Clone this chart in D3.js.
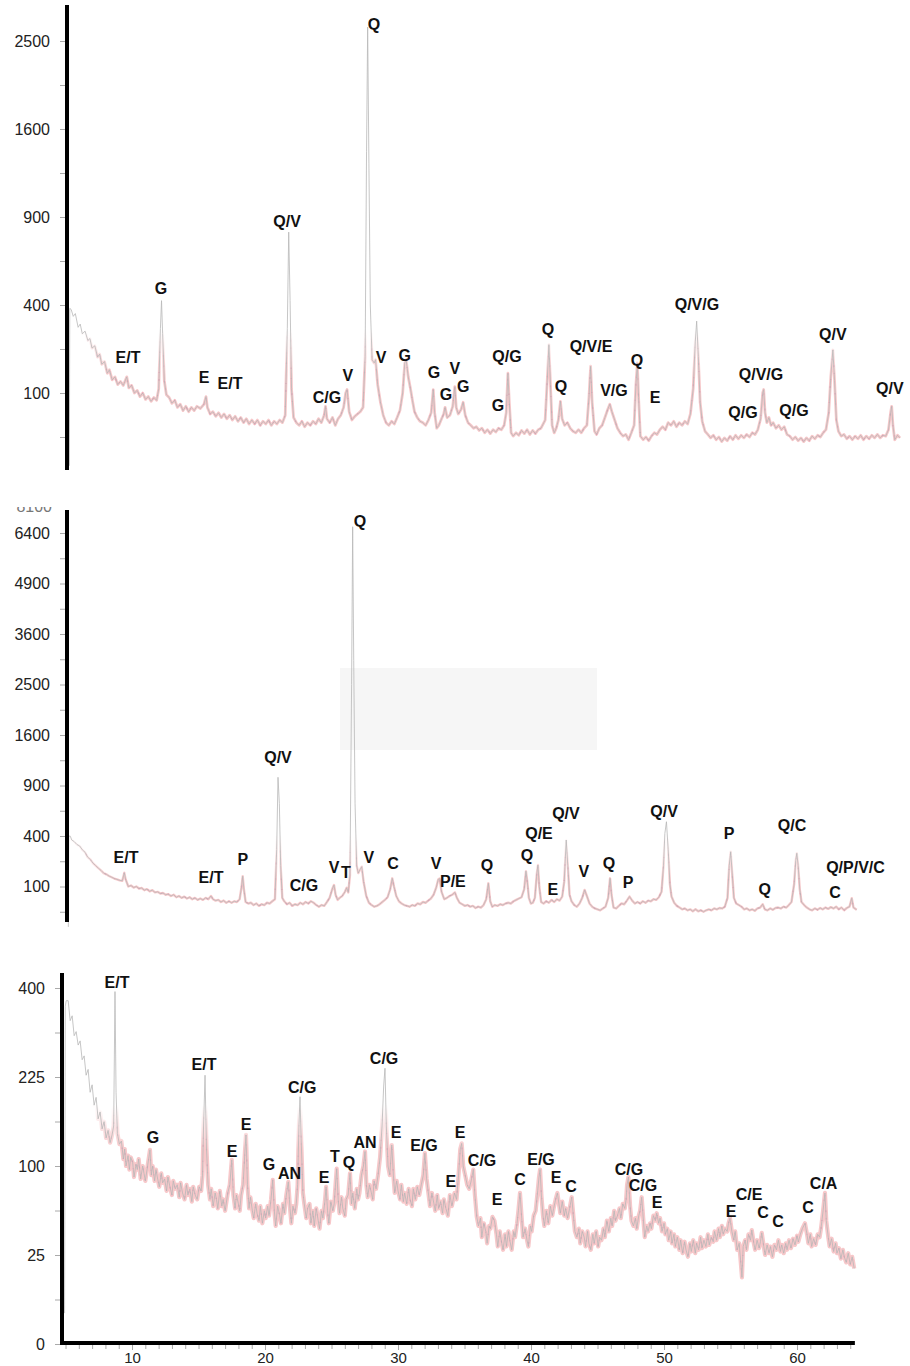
<!DOCTYPE html>
<html><head><meta charset="utf-8">
<script src="https://cdn.jsdelivr.net/npm/d3@7"></script>
<style>
body{margin:0;background:#fff;}
svg{display:block;}
</style></head><body>
<svg id="chart" width="910" height="1366"></svg>
<script>
// ---------- DATA (2θ in degrees, intensity in counts) ----------
const topPattern = [[5.17,3],[5.2,385],[5.3,380],[5.45,350],[5.6,362],[5.8,305],[5.95,318],[6.1,280],[6.3,290],[6.5,255],[6.65,262],[6.8,228],[7.0,236],[7.2,198],[7.35,208],[7.5,176],[7.7,184],[7.9,150],[8.05,160],[8.25,132],[8.45,140],[8.65,120],[8.85,128],[9.05,118],[9.3,140],[9.45,112],[9.65,118],[9.85,100],[10.05,106],[10.25,92],[10.45,100],[10.65,86],[10.85,92],[11.05,82],[11.25,90],[11.45,84],[11.6,110],[11.72,300],[11.8,420],[11.88,280],[12.0,130],[12.15,96],[12.35,90],[12.55,78],[12.75,84],[12.95,70],[13.15,76],[13.35,64],[13.55,72],[13.75,62],[13.95,70],[14.15,64],[14.35,72],[14.6,68],[14.85,76],[15.0,92],[15.1,70],[15.3,58],[15.5,62],[15.7,54],[15.9,60],[16.1,52],[16.3,58],[16.5,50],[16.7,56],[16.9,48],[17.1,54],[17.3,46],[17.5,52],[17.7,44],[17.9,50],[18.1,42],[18.3,48],[18.5,42],[18.7,48],[18.9,40],[19.1,46],[19.3,42],[19.5,48],[19.7,40],[19.9,46],[20.1,42],[20.3,48],[20.5,44],[20.7,56],[20.85,300],[20.95,800],[21.05,420],[21.15,110],[21.3,52],[21.5,44],[21.7,40],[21.9,46],[22.1,38],[22.3,44],[22.5,40],[22.7,46],[22.9,42],[23.1,50],[23.3,44],[23.5,56],[23.6,72],[23.7,50],[23.9,44],[24.1,52],[24.3,40],[24.5,50],[24.7,56],[24.9,70],[25.05,100],[25.15,108],[25.3,62],[25.5,48],[25.7,54],[25.9,58],[26.1,62],[26.3,70],[26.45,200],[26.55,1400],[26.63,2660],[26.72,1300],[26.82,400],[26.95,190],[27.1,180],[27.2,190],[27.35,120],[27.55,80],[27.75,56],[27.95,44],[28.15,40],[28.35,46],[28.55,42],[28.75,52],[28.95,64],[29.15,100],[29.3,180],[29.4,190],[29.55,140],[29.7,112],[29.85,84],[30.0,62],[30.2,52],[30.4,46],[30.6,44],[30.8,40],[31.0,48],[31.2,60],[31.35,108],[31.45,60],[31.6,36],[31.75,40],[31.95,50],[32.1,58],[32.2,70],[32.35,52],[32.55,56],[32.75,72],[32.9,115],[33.0,70],[33.15,58],[33.35,66],[33.5,80],[33.65,56],[33.85,44],[34.05,40],[34.25,36],[34.45,38],[34.65,33],[34.85,36],[35.05,30],[35.25,34],[35.45,29],[35.65,34],[35.85,31],[36.05,36],[36.25,34],[36.45,40],[36.6,60],[36.72,150],[36.82,80],[36.95,30],[37.1,26],[37.3,30],[37.5,27],[37.7,33],[37.9,29],[38.1,34],[38.3,28],[38.5,33],[38.7,29],[38.9,34],[39.1,36],[39.4,48],[39.55,130],[39.67,240],[39.78,120],[39.9,40],[40.05,30],[40.2,36],[40.35,48],[40.5,82],[40.62,50],[40.8,40],[41.0,44],[41.2,36],[41.4,32],[41.6,30],[41.8,34],[42.0,30],[42.2,36],[42.4,40],[42.55,90],[42.67,170],[42.78,80],[42.95,32],[43.1,28],[43.3,36],[43.5,40],[43.7,52],[43.9,66],[44.05,76],[44.2,62],[44.4,48],[44.6,36],[44.8,30],[45.0,26],[45.2,28],[45.4,22],[45.6,30],[45.8,40],[45.93,120],[46.03,180],[46.12,90],[46.25,26],[46.45,22],[46.65,25],[46.85,21],[47.05,26],[47.25,30],[47.45,28],[47.65,34],[47.85,38],[48.05,34],[48.25,44],[48.45,40],[48.65,46],[48.85,38],[49.05,44],[49.25,40],[49.45,46],[49.65,42],[49.85,58],[50.05,110],[50.2,250],[50.3,330],[50.42,200],[50.55,80],[50.7,46],[50.9,32],[51.1,28],[51.3,24],[51.5,27],[51.7,22],[51.9,25],[52.1,20],[52.3,24],[52.5,21],[52.7,26],[52.9,22],[53.1,27],[53.3,23],[53.5,27],[53.7,24],[53.9,28],[54.1,25],[54.3,30],[54.5,28],[54.7,34],[54.9,50],[55.05,100],[55.12,108],[55.22,60],[55.35,44],[55.5,52],[55.65,40],[55.8,44],[56.0,36],[56.2,40],[56.4,34],[56.6,38],[56.8,28],[57.0,26],[57.2,22],[57.4,25],[57.6,21],[57.8,24],[58.0,20],[58.2,24],[58.4,21],[58.6,26],[58.8,23],[59.0,27],[59.2,25],[59.4,30],[59.6,34],[59.8,60],[59.95,140],[60.1,222],[60.22,130],[60.35,48],[60.5,32],[60.7,26],[60.9,28],[61.1,23],[61.3,26],[61.5,22],[61.7,26],[61.9,23],[62.1,27],[62.3,22],[62.5,26],[62.7,23],[62.9,27],[63.1,24],[63.3,28],[63.5,24],[63.7,27],[63.9,26],[64.1,34],[64.25,60],[64.33,72],[64.42,40],[64.55,22],[64.75,27],[64.93,24]];

const midPattern = [[5.25,4],[5.28,400],[5.4,398],[5.5,370],[5.7,356],[5.9,335],[6.1,325],[6.3,298],[6.5,282],[6.7,250],[6.9,236],[7.1,214],[7.3,200],[7.5,186],[7.7,174],[7.9,160],[8.1,154],[8.3,146],[8.5,140],[8.7,134],[8.9,130],[9.1,126],[9.3,124],[9.45,162],[9.55,130],[9.75,100],[9.95,104],[10.15,96],[10.35,100],[10.55,92],[10.75,94],[10.95,86],[11.15,90],[11.35,82],[11.55,86],[11.75,78],[11.95,80],[12.15,74],[12.35,76],[12.55,70],[12.75,72],[12.95,66],[13.15,70],[13.35,62],[13.55,66],[13.75,60],[13.95,64],[14.15,58],[14.35,62],[14.55,56],[14.75,60],[14.95,54],[15.15,58],[15.35,54],[15.55,60],[15.75,56],[15.95,66],[16.1,56],[16.3,52],[16.5,54],[16.7,48],[16.9,52],[17.1,46],[17.3,50],[17.5,46],[17.7,50],[17.9,48],[18.1,56],[18.25,100],[18.33,145],[18.42,90],[18.55,48],[18.75,44],[18.95,46],[19.15,40],[19.35,44],[19.55,38],[19.75,42],[19.95,40],[20.15,46],[20.35,44],[20.55,50],[20.75,56],[20.88,300],[20.98,1000],[21.08,700],[21.18,200],[21.3,60],[21.45,50],[21.65,42],[21.85,46],[22.05,38],[22.25,42],[22.45,40],[22.65,46],[22.85,42],[23.05,48],[23.25,44],[23.45,50],[23.65,46],[23.85,40],[24.05,36],[24.25,40],[24.45,38],[24.65,48],[24.85,60],[25.05,90],[25.18,106],[25.3,70],[25.45,54],[25.6,60],[25.8,66],[26.0,80],[26.13,95],[26.25,78],[26.38,150],[26.5,2500],[26.58,6600],[26.66,3000],[26.76,700],[26.88,200],[27.0,160],[27.15,180],[27.26,194],[27.4,120],[27.6,66],[27.8,46],[28.0,40],[28.2,36],[28.4,38],[28.6,42],[28.8,48],[29.0,54],[29.2,62],[29.4,90],[29.55,135],[29.68,100],[29.85,66],[30.05,50],[30.25,44],[30.45,40],[30.65,38],[30.85,36],[31.05,40],[31.25,38],[31.45,44],[31.65,42],[31.85,48],[32.05,46],[32.25,52],[32.45,58],[32.65,70],[32.85,96],[33.0,130],[33.1,134],[33.25,80],[33.45,56],[33.65,60],[33.85,66],[34.05,70],[34.25,78],[34.4,60],[34.6,46],[34.8,42],[35.0,38],[35.2,40],[35.4,36],[35.6,38],[35.8,33],[36.0,36],[36.2,34],[36.4,40],[36.6,56],[36.76,113],[36.9,50],[37.05,36],[37.25,40],[37.45,38],[37.65,42],[37.85,40],[38.05,44],[38.25,46],[38.45,44],[38.65,50],[38.85,54],[39.05,58],[39.25,62],[39.45,90],[39.58,170],[39.68,120],[39.8,60],[39.95,44],[40.1,46],[40.25,60],[40.4,160],[40.48,203],[40.58,100],[40.72,48],[40.9,44],[41.1,50],[41.3,46],[41.5,54],[41.7,48],[41.9,56],[42.1,52],[42.3,64],[42.45,120],[42.6,369],[42.72,200],[42.85,70],[43.0,50],[43.2,40],[43.4,36],[43.6,44],[43.8,60],[43.98,87],[44.15,66],[44.35,44],[44.55,36],[44.75,32],[44.95,30],[45.15,28],[45.35,32],[45.55,36],[45.75,60],[45.89,135],[46.0,70],[46.15,34],[46.35,32],[46.55,38],[46.75,44],[46.95,42],[47.15,52],[47.35,64],[47.55,52],[47.75,44],[47.95,48],[48.15,44],[48.35,50],[48.55,46],[48.75,52],[48.95,50],[49.15,56],[49.35,54],[49.55,62],[49.75,80],[49.9,200],[50.0,420],[50.12,521],[50.25,300],[50.38,110],[50.5,64],[50.7,46],[50.9,38],[51.1,34],[51.3,30],[51.5,32],[51.7,28],[51.9,30],[52.1,26],[52.3,30],[52.5,26],[52.7,28],[52.9,25],[53.1,28],[53.3,30],[53.5,28],[53.7,32],[53.9,30],[54.1,33],[54.3,32],[54.5,36],[54.7,60],[54.83,200],[54.94,285],[55.05,160],[55.18,60],[55.35,44],[55.55,40],[55.75,36],[55.95,30],[56.15,32],[56.35,28],[56.55,30],[56.75,27],[56.95,32],[57.15,34],[57.34,42],[57.5,30],[57.7,28],[57.9,32],[58.1,29],[58.3,33],[58.5,34],[58.7,32],[58.9,36],[59.1,34],[59.3,40],[59.5,48],[59.7,110],[59.82,230],[59.9,275],[60.0,200],[60.12,90],[60.25,48],[60.45,40],[60.65,34],[60.85,30],[61.05,28],[61.25,32],[61.45,29],[61.65,33],[61.85,30],[62.05,34],[62.25,31],[62.45,35],[62.65,32],[62.85,36],[63.05,30],[63.25,34],[63.45,28],[63.65,33],[63.85,36],[64.02,59],[64.15,34],[64.39,29]];

const botPattern = [[4.93,3],[4.98,360],[5.05,372],[5.2,372],[5.35,330],[5.5,340],[5.65,300],[5.8,308],[5.95,282],[6.1,290],[6.25,255],[6.4,262],[6.55,228],[6.7,238],[6.85,200],[7.0,212],[7.15,180],[7.3,192],[7.45,160],[7.6,170],[7.75,146],[7.9,156],[8.05,134],[8.2,144],[8.35,128],[8.5,138],[8.62,150],[8.72,392],[8.8,200],[8.9,140],[9.05,126],[9.2,130],[9.35,108],[9.45,120],[9.55,100],[9.7,112],[9.8,96],[9.9,110],[10.05,104],[10.15,88],[10.3,102],[10.4,96],[10.5,108],[10.65,86],[10.8,100],[10.9,92],[11.0,84],[11.15,98],[11.35,119],[11.45,90],[11.55,100],[11.7,84],[11.8,96],[11.9,88],[12.05,78],[12.2,92],[12.3,82],[12.45,86],[12.6,74],[12.7,88],[12.85,78],[13.0,70],[13.1,84],[13.25,76],[13.4,80],[13.55,68],[13.65,82],[13.8,72],[13.95,66],[14.1,80],[14.2,70],[14.35,76],[14.5,64],[14.6,78],[14.75,70],[14.9,66],[15.05,78],[15.2,74],[15.3,90],[15.38,150],[15.49,228],[15.6,120],[15.72,80],[15.86,66],[15.95,76],[16.1,60],[16.25,72],[16.35,66],[16.45,58],[16.6,74],[16.75,60],[16.85,66],[17.0,56],[17.2,72],[17.35,80],[17.5,107],[17.62,70],[17.75,58],[17.85,70],[18.0,62],[18.1,56],[18.2,70],[18.35,80],[18.5,120],[18.57,138],[18.68,80],[18.8,58],[18.9,68],[19.05,56],[19.15,50],[19.3,62],[19.4,54],[19.55,48],[19.65,60],[19.8,46],[19.95,56],[20.05,50],[20.2,60],[20.3,52],[20.45,66],[20.58,85],[20.7,56],[20.8,44],[20.95,60],[21.1,52],[21.2,46],[21.35,62],[21.45,54],[21.6,70],[21.75,83],[21.88,58],[21.98,46],[22.1,60],[22.25,54],[22.35,62],[22.45,80],[22.55,150],[22.63,193],[22.72,130],[22.85,72],[22.95,62],[23.1,50],[23.2,58],[23.35,62],[23.45,46],[23.6,56],[23.7,44],[23.85,58],[24.0,48],[24.1,42],[24.25,56],[24.35,50],[24.5,64],[24.59,78],[24.7,56],[24.8,46],[24.95,64],[25.1,56],[25.2,62],[25.3,80],[25.39,97],[25.5,66],[25.6,54],[25.75,68],[25.85,58],[26.0,52],[26.1,66],[26.25,70],[26.39,92],[26.5,62],[26.6,72],[26.75,58],[26.9,76],[27.0,66],[27.1,72],[27.25,90],[27.4,100],[27.52,117],[27.62,80],[27.72,68],[27.85,80],[28.0,72],[28.1,66],[28.2,84],[28.35,76],[28.5,90],[28.65,110],[28.8,150],[28.92,210],[29.02,240],[29.12,150],[29.25,100],[29.38,90],[29.53,125],[29.65,90],[29.75,72],[29.9,84],[30.0,74],[30.15,66],[30.25,80],[30.4,64],[30.5,72],[30.65,62],[30.8,76],[30.9,66],[31.05,60],[31.15,76],[31.3,66],[31.45,78],[31.6,70],[31.75,80],[31.9,90],[32.02,115],[32.15,86],[32.3,70],[32.4,60],[32.55,72],[32.7,62],[32.8,56],[32.95,70],[33.05,58],[33.2,64],[33.35,54],[33.45,66],[33.6,58],[33.75,52],[33.9,70],[34.05,60],[34.15,66],[34.25,72],[34.4,66],[34.55,90],[34.68,120],[34.79,127],[34.9,100],[35.05,90],[35.2,80],[35.35,76],[35.5,84],[35.66,96],[35.78,70],[35.92,51],[36.05,44],[36.2,50],[36.3,36],[36.45,46],[36.6,40],[36.7,32],[36.85,44],[36.95,42],[37.1,51],[37.25,48],[37.4,38],[37.5,30],[37.65,40],[37.8,32],[37.9,28],[38.05,38],[38.15,30],[38.3,40],[38.4,34],[38.55,28],[38.7,40],[38.8,36],[38.95,46],[39.05,56],[39.17,72],[39.3,50],[39.4,36],[39.55,42],[39.7,34],[39.8,30],[39.95,44],[40.05,40],[40.2,52],[40.35,56],[40.5,74],[40.6,88],[40.68,96],[40.78,70],[40.9,52],[41.0,44],[41.15,56],[41.3,46],[41.45,60],[41.6,52],[41.7,58],[41.85,66],[41.98,72],[42.1,62],[42.2,54],[42.35,64],[42.5,52],[42.6,58],[42.75,50],[42.9,58],[43.06,68],[43.2,50],[43.3,40],[43.45,36],[43.6,42],[43.7,32],[43.85,40],[44.0,36],[44.1,30],[44.25,40],[44.35,32],[44.5,28],[44.65,38],[44.75,32],[44.9,40],[45.05,30],[45.15,36],[45.3,34],[45.45,42],[45.55,36],[45.7,48],[45.85,40],[46.0,50],[46.1,44],[46.25,56],[46.35,48],[46.5,52],[46.65,58],[46.75,50],[46.9,62],[47.05,58],[47.15,66],[47.22,80],[47.32,88],[47.45,60],[47.55,48],[47.7,44],[47.85,50],[47.95,42],[48.1,52],[48.2,56],[48.32,68],[48.45,48],[48.55,36],[48.7,44],[48.8,40],[48.95,46],[49.05,42],[49.2,52],[49.35,48],[49.45,54],[49.6,46],[49.7,50],[49.85,40],[50.0,46],[50.1,38],[50.25,42],[50.35,34],[50.5,40],[50.6,32],[50.75,38],[50.85,30],[51.0,36],[51.15,28],[51.25,34],[51.4,26],[51.55,33],[51.65,28],[51.8,24],[51.95,32],[52.05,27],[52.2,34],[52.35,26],[52.45,32],[52.6,28],[52.75,36],[52.85,29],[53.0,34],[53.15,30],[53.3,38],[53.4,31],[53.55,36],[53.7,33],[53.8,40],[53.95,34],[54.1,42],[54.2,36],[54.35,44],[54.45,38],[54.6,42],[54.75,40],[54.85,46],[54.96,50],[55.1,40],[55.25,34],[55.35,40],[55.5,28],[55.65,32],[55.76,22],[55.86,14],[55.95,30],[56.1,34],[56.2,28],[56.35,38],[56.5,34],[56.6,41],[56.75,32],[56.85,28],[57.0,34],[57.15,29],[57.25,33],[57.35,39],[57.5,30],[57.6,25],[57.75,31],[57.9,26],[58.0,30],[58.15,24],[58.3,31],[58.45,28],[58.6,34],[58.75,27],[58.85,31],[59.0,26],[59.15,32],[59.25,28],[59.4,34],[59.55,29],[59.7,35],[59.85,31],[60.0,37],[60.1,33],[60.25,38],[60.4,42],[60.6,46],[60.75,38],[60.85,32],[61.0,38],[61.1,30],[61.25,35],[61.4,31],[61.55,38],[61.7,36],[61.8,42],[61.95,55],[62.1,72],[62.2,48],[62.35,36],[62.45,30],[62.6,35],[62.75,27],[62.9,32],[63.0,26],[63.15,29],[63.3,23],[63.45,28],[63.55,24],[63.7,21],[63.85,26],[64.0,20],[64.15,24],[64.3,18]];

// phase labels: [text, 2θ, intensity at label baseline]
const topLabels = [["E/T",9.39,180],["G",11.76,452],["E",14.86,124],["E/T",16.73,109],["Q/V",20.83,833],["C/G",23.7,79],["V",25.2,129],["Q",27.09,2627],["V",27.6,180],["G",29.3,186],["G",31.4,137],["V",32.9,148],["G",32.27,85],["G",33.5,102],["Q/G",36.65,183],["G",36.0,63],["Q",39.6,275],["Q",40.54,102],["Q/V/E",42.7,215],["V/G",44.35,93],["Q",46.0,171],["E",47.3,79],["Q/V/G",50.32,378],["Q/G",53.63,51],["Q/V/G",54.93,132],["Q/G",57.3,55],["Q/V",60.1,257],["Q/V",64.2,98]];
const midLabels = [["E/T",9.58,215],["E/T",15.95,114],["P",18.35,203],["Q/V",20.98,1187],["C/G",22.93,83],["V",25.18,161],["T",26.08,137],["Q",27.13,6591],["V",27.8,215],["C",29.6,181],["V",32.83,181],["P/E",34.1,98],["Q",36.66,171],["Q",39.66,227],["Q/E",40.56,377],["E",41.6,69],["Q/V",42.58,546],["V",43.93,141],["Q",45.8,181],["P",47.24,94],["Q/V",49.94,565],["P",54.81,377],["Q",57.5,69],["Q/C",59.54,441],["Q/P/V/C",64.3,161],["C",62.77,60]];
const botLabels = [["E/T",8.87,400],["G",11.58,128],["E/T",15.41,237],["E",17.52,110],["E",18.57,145],["G",20.3,96],["AN",21.85,86],["C/G",22.8,199],["E",24.44,82],["T",25.26,105],["Q",26.31,98],["AN",27.52,121],["C/G",28.95,247],["E",29.85,134],["E/G",31.95,118],["E",34.66,134],["E",33.98,78],["C/G",36.32,100],["E",37.44,61],["C",39.17,80],["E/G",40.75,101],["E",41.88,82],["C",43.0,73],["C/G",47.36,90],["C/G",48.42,74],["E",49.47,58],["E",55.04,51],["C/E",56.39,65],["C",57.44,50],["C",58.57,43],["C",60.83,54],["C/A",62.0,76]];

const topTicks = [100,400,900,1600,2500];
const topMinor = [25,225,625,1225,2025];
const midTicks = [100,400,900,1600,2500,3600,4900,6400];
const midMinor = [25,225,625,1225,2025,3025,4225,5625];
const botTicks = [0,25,100,225,400];
const botMinor = [6.25,56.25,156.25,306.25];
const xTicks = [10,20,30,40,50,60];

// ---------- LAYOUT ----------
const panels = [
  {data: topPattern, labels: topLabels, ticks: topTicks, minor: topMinor,
   xDomain: [5, 64.95], xRange: [67, 67 + 59.95 * 13.9], yDomain: [0, 2500], yRange: [481, 41],
   axisX: 67, axisY: [5, 470], pinkTop: 375, pinkW: 2.8},
  {data: midPattern, labels: midLabels, ticks: midTicks, minor: midMinor,
   xDomain: [5, 64.4], xRange: [65, 65 + 59.4 * 13.33], yDomain: [0, 6400], yRange: [937, 533],
   axisX: 67, axisY: [510, 922], pinkTop: 880, pinkW: 2.4},
  {data: botPattern, labels: botLabels, ticks: botTicks, minor: botMinor,
   xDomain: [4.66, 64.35], xRange: [61, 61 + 59.69 * 13.3], yDomain: [0, 400], yRange: [1344, 988],
   axisX: 62, axisY: [973, 1345], pinkTop: 1150, pinkW: 4.2, xAxis: true}
];

const svg = d3.select("#chart");
const defs = svg.append("defs");
const FONT = "'Liberation Sans', Arial, Helvetica, sans-serif";

// faint scanned patch in middle panel
svg.append("rect").attr("x", 340).attr("y", 668).attr("width", 257).attr("height", 82).attr("fill", "#f6f6f6");

panels.forEach((p, i) => {
  const x = d3.scaleLinear().domain(p.xDomain).range(p.xRange);
  const y = d3.scaleSqrt().domain(p.yDomain).range(p.yRange);
  const g = svg.append("g");
  const line = d3.line().x(d => x(d[0])).y(d => y(d[1]));

  // soft mask so the pink noise band fades out towards the peak tips
  const gid = "grad" + i, mid = "mask" + i;
  const grad = defs.append("linearGradient").attr("id", gid)
    .attr("gradientUnits", "userSpaceOnUse").attr("x1", 0).attr("x2", 0)
    .attr("y1", p.pinkTop - 45).attr("y2", p.pinkTop);
  grad.append("stop").attr("offset", 0).attr("stop-color", "#000");
  grad.append("stop").attr("offset", 1).attr("stop-color", "#fff");
  defs.append("mask").attr("id", mid).attr("maskUnits", "userSpaceOnUse")
    .attr("x", 0).attr("y", 0).attr("width", 910).attr("height", 1366)
    .append("rect").attr("x", 0).attr("y", 0).attr("width", 910).attr("height", 1366)
    .attr("fill", `url(#${gid})`);

  const noisy = p.data.slice(1);
  g.append("path").datum(noisy).attr("d", line).attr("fill", "none")
    .attr("stroke", "#f7c8ca").attr("stroke-width", p.pinkW).attr("stroke-linejoin", "round")
    .attr("mask", `url(#${mid})`);
  g.append("path").datum(noisy).attr("d", line).attr("fill", "none")
    .attr("stroke", "#dc6aa0").attr("stroke-width", 1.2).attr("stroke-dasharray", "1.5 9 1 14 2 6 1 19")
    .attr("opacity", 0.45).attr("mask", `url(#${mid})`);
  g.append("path").datum(p.data).attr("d", line).attr("fill", "none")
    .attr("stroke", "#b8b8b8").attr("stroke-width", 0.8).attr("stroke-linejoin", "round");

  // y axis (ticks + labels)
  const labelSet = new Set(p.ticks);
  const allTicks = p.ticks.concat(p.minor);
  const ax = g.append("g").attr("transform", `translate(${p.axisX},0)`)
    .call(d3.axisLeft(y).tickValues(allTicks).tickSize(7).tickPadding(10)
      .tickFormat(v => labelSet.has(v) ? String(v) : ""));
  ax.select(".domain").remove();
  ax.selectAll(".tick line").attr("stroke", "#aaa").attr("stroke-width", 1);
  ax.selectAll(".tick text").attr("fill", "#222").style("font-family", FONT).style("font-size", "16px");

  // thick y axis line
  g.append("line").attr("x1", p.axisX).attr("x2", p.axisX)
    .attr("y1", p.axisY[0]).attr("y2", p.axisY[1])
    .attr("stroke", "#000").attr("stroke-width", 4);

  if (p.xAxis) {
    const base = p.yRange[0] - 1;
    const minor = g.append("g").attr("transform", `translate(0,${base})`)
      .call(d3.axisBottom(x).tickValues(d3.range(5, 65, 1)).tickSize(6).tickFormat(""));
    minor.select(".domain").remove();
    minor.selectAll(".tick line").attr("stroke", "#aaa");
    const major = g.append("g").attr("transform", `translate(0,${base})`)
      .call(d3.axisBottom(x).tickValues(xTicks).tickSize(7).tickPadding(2));
    major.select(".domain").remove();
    major.selectAll(".tick line").attr("stroke", "#aaa");
    major.selectAll(".tick text").attr("fill", "#222").style("font-family", FONT).style("font-size", "15px");
    g.append("line").attr("x1", p.axisX).attr("x2", x(p.xDomain[1]))
      .attr("y1", base).attr("y2", base)
      .attr("stroke", "#000").attr("stroke-width", 4);
  }

  // phase labels
  g.append("g").selectAll("text").data(p.labels).join("text")
    .attr("x", d => x(d[1])).attr("y", d => y(d[2]))
    .attr("text-anchor", "middle")
    .style("font-family", FONT).style("font-weight", "bold").style("font-size", "16px")
    .attr("fill", "#111")
    .text(d => d[0]);
});

// clipped top tick label of the middle panel (cut off in the scan)
defs.append("clipPath").attr("id", "cut8100").append("rect").attr("x", 0).attr("y", 507).attr("width", 80).attr("height", 8);
svg.append("text").attr("x", 52).attr("y", 512).attr("text-anchor", "end")
  .style("font-family", FONT).style("font-size", "16px").attr("fill", "#777")
  .attr("clip-path", "url(#cut8100)").text("8100");
</script>
</body></html>
